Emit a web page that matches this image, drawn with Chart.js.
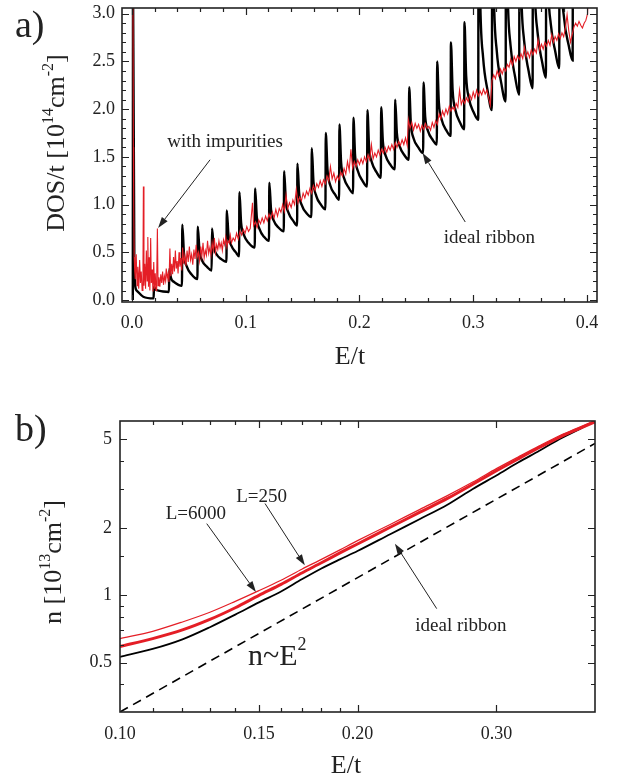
<!DOCTYPE html>
<html><head><meta charset="utf-8">
<script src="https://cdn.jsdelivr.net/npm/chart.js@4.4.0/dist/chart.umd.min.js"></script>
<style>
html,body{margin:0;padding:0;background:#fff;}
#wrap{position:relative;width:623px;height:783px;overflow:hidden;background:#fff}
canvas{position:absolute;left:0}
#ca{top:0;width:623px;height:400px}
#cb{top:400px;width:623px;height:383px}
</style></head><body>
<div id="wrap"><canvas id="ca" width="623" height="400"></canvas><canvas id="cb" width="623" height="383"></canvas></div>
<script>
// ---------- Panel a data: DOS/t vs E/t ----------
const aXTicks = [0, 0.1, 0.2, 0.3, 0.4];
const aXLabels = ['0.0', '0.1', '0.2', '0.3', '0.4'];
const aYTicks = [0, 0.5, 1.0, 1.5, 2.0, 2.5, 3.0];
const aYLabels = ['0.0', '0.5', '1.0', '1.5', '2.0', '2.5', '3.0'];

// ideal ribbon [E/t, DOS/t]
const idealCurve = [
 [0.0008,0.00],[0.0010,3.30],[0.0022,0.28],[0.0042,0.10],[0.0100,0.035],[0.0191,0.018],
 [0.0194,0.14],[0.0209,0.11],[0.0234,0.10],[0.0274,0.09],[0.0326,0.085],
 [0.0329,0.33],[0.0344,0.23],[0.0369,0.19],[0.0409,0.16],[0.0440,0.15],
 [0.0443,0.79],[0.0458,0.48],[0.0483,0.35],[0.0523,0.27],[0.0576,0.22],
 [0.0579,0.77],[0.0594,0.52],[0.0619,0.41],[0.0659,0.35],[0.0701,0.31],
 [0.0704,0.75],[0.0719,0.56],[0.0744,0.48],[0.0784,0.43],[0.0831,0.40],
 [0.0834,0.94],[0.0849,0.68],[0.0874,0.57],[0.0914,0.50],[0.0942,0.46],
 [0.0945,1.13],[0.0960,0.81],[0.0985,0.68],[0.1025,0.60],[0.1080,0.55],
 [0.1083,1.17],[0.1098,0.87],[0.1123,0.74],[0.1163,0.66],[0.1205,0.62],
 [0.1208,1.23],[0.1223,0.95],[0.1248,0.83],[0.1288,0.76],[0.1335,0.72],
 [0.1338,1.35],[0.1353,1.04],[0.1378,0.91],[0.1418,0.83],[0.1452,0.78],
 [0.1455,1.43],[0.1470,1.12],[0.1495,0.99],[0.1535,0.91],[0.1578,0.87],
 [0.1581,1.59],[0.1596,1.24],[0.1621,1.09],[0.1661,1.00],[0.1701,0.95],
 [0.1704,1.75],[0.1719,1.37],[0.1744,1.20],[0.1784,1.11],[0.1821,1.05],
 [0.1824,1.84],[0.1839,1.44],[0.1864,1.28],[0.1904,1.18],[0.1944,1.12],
 [0.1947,1.91],[0.1962,1.51],[0.1987,1.35],[0.2027,1.25],[0.2067,1.19],
 [0.2070,1.99],[0.2085,1.60],[0.2110,1.44],[0.2150,1.34],[0.2188,1.28],
 [0.2191,2.02],[0.2206,1.66],[0.2231,1.51],[0.2271,1.42],[0.2311,1.37],
 [0.2314,2.10],[0.2329,1.75],[0.2354,1.61],[0.2394,1.52],[0.2434,1.47],
 [0.2437,2.23],[0.2452,1.85],[0.2477,1.69],[0.2517,1.60],[0.2560,1.54],
 [0.2563,2.28],[0.2578,1.92],[0.2603,1.77],[0.2643,1.68],[0.2680,1.63],
 [0.2683,2.50],[0.2698,2.07],[0.2723,1.89],[0.2763,1.78],[0.2801,1.72],
 [0.2804,2.70],[0.2819,2.20],[0.2844,1.99],[0.2884,1.86],[0.2920,1.79],
 [0.2923,2.91],[0.2938,2.35],[0.2963,2.11],[0.3003,1.97],[0.3044,1.89],
 [0.3047,4.50],[0.3062,3.12],[0.3087,2.54],[0.3127,2.19],[0.3164,1.99],
 [0.3167,4.50],[0.3182,3.17],[0.3207,2.61],[0.3247,2.27],[0.3285,2.08],
 [0.3288,4.50],[0.3303,3.21],[0.3328,2.67],[0.3368,2.34],[0.3404,2.15],
 [0.3407,4.50],[0.3422,3.25],[0.3447,2.72],[0.3487,2.40],[0.3522,2.22],
 [0.3525,4.50],[0.3540,3.31],[0.3565,2.81],[0.3605,2.50],[0.3639,2.33],
 [0.3642,4.50],[0.3657,3.36],[0.3682,2.89],[0.3722,2.60],[0.3756,2.43],
 [0.3759,4.50],[0.3774,3.41],[0.3799,2.95],[0.3839,2.67],[0.3874,2.51],
 [0.3877,4.50]
];

// with impurities [E/t, DOS/t]
const impurityCurve = [
 [0.0009,3.30],[0.0013,1.60],[0.0016,0.98],[0.0020,0.45],[0.0025,0.30],[0.0030,0.22],[0.0038,0.48],[0.0045,0.15],[0.0052,0.35],[0.0060,0.12],
 [0.0068,0.42],[0.0075,0.18],[0.0082,0.30],[0.0090,0.10],[0.0097,0.26],[0.0101,1.19],[0.0106,0.15],[0.0113,0.38],[0.0120,0.12],[0.0127,0.52],
 [0.0134,0.20],[0.0140,0.66],[0.0146,0.14],[0.0152,0.45],[0.0158,0.10],[0.0165,0.65],[0.0171,0.18],[0.0178,0.32],[0.0185,0.09],[0.0192,0.40],
 [0.0198,0.12],[0.0205,0.28],[0.0212,0.10],[0.0218,0.22],[0.0224,0.75],[0.0230,0.15],[0.0238,0.24],[0.0246,0.14],[0.0254,0.27],[0.0262,0.18],
 [0.0270,0.30],[0.0278,0.16],[0.0286,0.25],[0.0294,0.20],[0.0302,0.33],[0.0310,0.22],[0.0318,0.28],[0.0326,0.19],[0.0334,0.54],[0.0342,0.25],
 [0.0350,0.38],[0.0358,0.27],[0.0366,0.45],[0.0374,0.30],[0.0382,0.52],[0.0390,0.33],[0.0398,0.41],[0.0406,0.28],[0.0414,0.50],[0.0422,0.35],
 [0.0430,0.44],[0.0438,0.31],[0.0446,0.55],[0.0455,0.38],[0.0465,0.47],[0.0475,0.36],[0.0485,0.52],[0.0495,0.40],[0.0505,0.56],[0.0515,0.42],
 [0.0525,0.48],[0.0535,0.37],[0.0545,0.53],[0.0555,0.43],[0.0565,0.58],[0.0575,0.45],[0.0585,0.50],[0.0595,0.41],[0.0605,0.56],[0.0615,0.46],
 [0.0625,0.60],[0.0635,0.44],[0.0645,0.52],[0.0655,0.47],[0.0665,0.62],[0.0675,0.49],[0.0685,0.55],[0.0695,0.47],[0.0705,0.60],[0.0715,0.52],
 [0.0725,0.65],[0.0735,0.50],[0.0745,0.58],[0.0755,0.53],[0.0765,0.62],[0.0775,0.55],[0.0785,0.60],[0.0795,0.52],[0.0805,0.63],[0.0815,0.58],
 [0.0825,0.66],[0.0835,0.56],[0.0845,0.62],[0.0855,0.60],[0.0865,0.68],[0.0875,0.60],[0.0890,0.65],[0.0905,0.62],[0.0920,0.70],[0.0935,0.64],
 [0.0950,0.72],[0.0965,0.68],[0.0980,0.74],[0.0995,0.70],[0.1010,0.77],[0.1025,0.72],[0.1040,0.75],[0.1060,1.02],[0.1070,0.78],[0.1085,0.82],
 [0.1100,0.76],[0.1115,0.84],[0.1130,0.80],[0.1145,0.86],[0.1160,0.81],[0.1175,0.88],[0.1190,0.83],[0.1205,0.90],[0.1220,0.85],[0.1235,0.92],
 [0.1250,0.86],[0.1265,0.95],[0.1280,0.88],[0.1295,0.96],[0.1310,0.92],[0.1325,1.00],[0.1340,0.93],[0.1355,1.10],[0.1370,0.96],[0.1385,1.02],
 [0.1400,0.97],[0.1415,1.05],[0.1430,1.00],[0.1445,1.16],[0.1460,1.02],[0.1475,1.08],[0.1490,1.04],[0.1505,1.12],[0.1520,1.07],[0.1535,1.14],
 [0.1550,1.10],[0.1565,1.17],[0.1580,1.12],[0.1595,1.20],[0.1610,1.15],[0.1625,1.22],[0.1640,1.18],[0.1655,1.25],[0.1670,1.19],[0.1685,1.26],
 [0.1700,1.22],[0.1715,1.30],[0.1730,1.25],[0.1745,1.40],[0.1760,1.27],[0.1775,1.33],[0.1790,1.24],[0.1805,1.30],[0.1820,1.26],[0.1835,1.34],
 [0.1850,1.30],[0.1865,1.38],[0.1880,1.32],[0.1895,1.45],[0.1910,1.36],[0.1925,1.58],[0.1940,1.38],[0.1955,1.45],[0.1970,1.40],[0.1985,1.47],
 [0.2000,1.42],[0.2015,1.48],[0.2030,1.43],[0.2045,1.50],[0.2060,1.45],[0.2075,1.52],[0.2090,1.47],[0.2105,1.63],[0.2120,1.48],[0.2135,1.54],
 [0.2150,1.50],[0.2165,1.57],[0.2180,1.52],[0.2195,1.58],[0.2210,1.54],[0.2225,1.60],[0.2240,1.55],[0.2255,1.61],[0.2270,1.57],[0.2285,1.63],
 [0.2300,1.58],[0.2315,1.65],[0.2330,1.60],[0.2345,1.66],[0.2360,1.62],[0.2375,1.68],[0.2390,1.63],[0.2405,1.70],[0.2420,1.62],[0.2430,1.89],
 [0.2445,1.80],[0.2460,1.86],[0.2475,1.78],[0.2490,1.85],[0.2505,1.80],[0.2520,1.84],[0.2535,1.77],[0.2550,1.83],[0.2565,1.79],[0.2580,1.85],
 [0.2595,1.80],[0.2610,1.82],[0.2625,1.78],[0.2640,1.86],[0.2655,1.81],[0.2670,1.88],[0.2685,1.84],[0.2700,1.95],[0.2715,1.90],[0.2730,1.98],
 [0.2745,1.93],[0.2760,2.00],[0.2775,1.95],[0.2790,2.03],[0.2805,1.98],[0.2820,2.02],[0.2835,1.99],[0.2850,2.06],[0.2865,2.02],[0.2880,2.20],
 [0.2895,2.05],[0.2910,2.10],[0.2925,2.06],[0.2940,2.12],[0.2955,2.08],[0.2970,2.15],[0.2985,2.10],[0.3000,2.18],[0.3015,2.12],[0.3030,2.20],
 [0.3045,2.14],[0.3060,2.19],[0.3075,2.15],[0.3090,2.21],[0.3105,2.16],[0.3120,2.20],[0.3135,2.12],[0.3150,2.04],[0.3165,2.30],[0.3180,2.36],
 [0.3195,2.32],[0.3210,2.40],[0.3225,2.35],[0.3240,2.42],[0.3255,2.37],[0.3270,2.43],[0.3285,2.40],[0.3300,2.47],[0.3315,2.44],[0.3330,2.52],
 [0.3345,2.46],[0.3360,2.55],[0.3375,2.50],[0.3390,2.56],[0.3405,2.52],[0.3420,2.58],[0.3435,2.53],[0.3450,2.65],[0.3465,2.55],[0.3480,2.60],
 [0.3495,2.54],[0.3510,2.62],[0.3525,2.57],[0.3540,2.63],[0.3555,2.59],[0.3570,2.73],[0.3585,2.62],[0.3600,2.68],[0.3615,2.63],[0.3630,2.70],
 [0.3645,2.66],[0.3660,2.72],[0.3675,2.67],[0.3690,2.78],[0.3705,2.70],[0.3720,2.76],[0.3735,2.72],[0.3750,2.79],[0.3765,2.74],[0.3780,2.80],
 [0.3795,2.76],[0.3810,2.85],[0.3825,2.99],[0.3840,2.82],[0.3855,2.70],[0.3870,2.78],[0.3885,2.86],[0.3900,2.90],[0.3915,2.87],[0.3930,2.92],
 [0.3945,2.88],[0.3960,2.85],[0.3975,2.90],[0.3990,2.93],[0.4005,3.00],[0.4012,3.30]
];

// ---------- Panel b data: n vs E/t (log-log) ----------
const bXTicks = [0.10, 0.15, 0.20, 0.30];
const bXLabels = ['0.10', '0.15', '0.20', '0.30'];
const bYTicks = [0.5, 1, 2, 5];
const bYLabels = ['0.5', '1', '2', '5'];
const nE      = [0.10, 0.11, 0.12, 0.13, 0.14, 0.15, 0.16, 0.17, 0.18, 0.19, 0.20, 0.22, 0.24, 0.26, 0.28, 0.30, 0.32, 0.34, 0.36, 0.38, 0.40];
const nIdeal  = [0.53, 0.575, 0.635, 0.72, 0.82, 0.93, 1.04, 1.18, 1.32, 1.45, 1.58, 1.88, 2.20, 2.55, 3.00, 3.45, 3.95, 4.45, 5.00, 5.50, 6.05];
const nL6000  = [0.59, 0.64, 0.70, 0.78, 0.88, 1.00, 1.12, 1.26, 1.40, 1.55, 1.70, 2.02, 2.36, 2.72, 3.15, 3.62, 4.10, 4.60, 5.10, 5.55, 6.00];
const nL250   = [0.64, 0.69, 0.76, 0.84, 0.94, 1.05, 1.17, 1.31, 1.45, 1.60, 1.76, 2.08, 2.43, 2.80, 3.22, 3.70, 4.18, 4.68, 5.18, 5.62, 6.08];
const nE2E    = [0.10, 0.40];
const nE2     = [0.30, 4.80];

// ---------- helpers ----------
const FONT = '"Liberation Serif", "Times New Roman", serif';
const INK = '#222';
function measureRich(ctx, parts){ let w = 0; for (const p of parts){ ctx.font = p.size + 'px ' + FONT; w += ctx.measureText(p.t).width; } return w; }
function drawRich(ctx, parts, x, y, align){
  const w = measureRich(ctx, parts);
  let cx = align === 'center' ? x - w/2 : (align === 'right' ? x - w : x);
  for (const p of parts){ ctx.font = p.size + 'px ' + FONT; ctx.fillText(p.t, cx, y + (p.dy || 0)); cx += ctx.measureText(p.t).width; }
}
function arrow(ctx, x1, y1, x2, y2){
  const ang = Math.atan2(y2 - y1, x2 - x1), L = 11, W = 3.6;
  const bx = x2 - L*Math.cos(ang), by = y2 - L*Math.sin(ang);
  ctx.lineWidth = 1; ctx.beginPath(); ctx.moveTo(x1, y1); ctx.lineTo(bx, by); ctx.stroke();
  ctx.beginPath(); ctx.moveTo(x2, y2);
  ctx.lineTo(bx - W*Math.sin(ang), by + W*Math.cos(ang));
  ctx.lineTo(bx + W*Math.sin(ang), by - W*Math.cos(ang));
  ctx.closePath(); ctx.fill();
}
function makeDecor(conf){
  return {
    id: 'decor',
    afterDatasetsDraw(chart){
      const ctx = chart.ctx, ca = chart.chartArea, xs = chart.scales.x, ys = chart.scales.y;
      ctx.save();
      ctx.strokeStyle = INK; ctx.fillStyle = INK; ctx.lineWidth = 1.2;
      const inX = v => v > xs.min && v < xs.max, inY = v => v > ys.min && v < ys.max;
      const drawX = (list, len) => list.filter(inX).forEach(v => {
        const p = Math.round(xs.getPixelForValue(v)) + 0.5;
        ctx.beginPath(); ctx.moveTo(p, ca.bottom); ctx.lineTo(p, ca.bottom - len);
        ctx.moveTo(p, ca.top); ctx.lineTo(p, ca.top + len); ctx.stroke();
      });
      const drawY = (list, len) => list.filter(inY).forEach(v => {
        const p = Math.round(ys.getPixelForValue(v)) + 0.5;
        ctx.beginPath(); ctx.moveTo(ca.left, p); ctx.lineTo(ca.left + len, p);
        ctx.moveTo(ca.right, p); ctx.lineTo(ca.right - len, p); ctx.stroke();
      });
      drawX(conf.xMajor, 7); drawX(conf.xMinor, 4);
      drawY(conf.yMajor, 7); drawY(conf.yMinor, 4);
      ctx.lineWidth = 1.6;
      ctx.strokeRect(ca.left, ca.top, ca.right - ca.left, ca.bottom - ca.top);
      conf.arrows.forEach(a => arrow(ctx, xs.getPixelForValue(a[0]), ys.getPixelForValue(a[1]), xs.getPixelForValue(a[2]), ys.getPixelForValue(a[3])));
      ctx.textBaseline = 'alphabetic';
      conf.notes.forEach(n => drawRich(ctx, n.parts, xs.getPixelForValue(n.x), ys.getPixelForValue(n.y), n.align || 'center'));
      conf.labels.forEach(l => {
        ctx.save(); ctx.translate(l.px, l.py); if (l.rot) ctx.rotate(l.rot);
        drawRich(ctx, l.parts, 0, 0, l.align || 'center'); ctx.restore();
      });
      ctx.restore();
    }
  };
}
const tickFont = { family: FONT, size: 18 };

// ---------- Chart a ----------
const aMinorX = []; for (let i = 1; i < 21; i++) if (i % 5) aMinorX.push(i * 0.02);
const aMinorY = []; for (let i = 1; i < 31; i++) if (i % 5) aMinorY.push(i * 0.1);
const decorA = makeDecor({
  xMajor: aXTicks, xMinor: aMinorX, yMajor: aYTicks, yMinor: aMinorY,
  arrows: [[0.0687, 1.47, 0.0230, 0.756], [0.293, 0.818, 0.2555, 1.54]],
  notes: [
    { x: 0.0819, y: 1.60, parts: [{ t: 'with impurities', size: 19 }] },
    { x: 0.3142, y: 0.60, parts: [{ t: 'ideal ribbon', size: 19 }] }
  ],
  labels: [
    { px: 15, py: 37, align: 'left', parts: [{ t: 'a)', size: 38 }] },
    { px: 64, py: 143, rot: -Math.PI/2, parts: [{ t: 'DOS/t [10', size: 26 }, { t: '14', size: 16, dy: -11 }, { t: 'cm', size: 26 }, { t: '-2', size: 16, dy: -11 }, { t: ']', size: 26 }] },
    { px: 350, py: 364, parts: [{ t: 'E/t', size: 26 }] }
  ]
});
const A_H = 400;
new Chart(document.getElementById('ca'), {
  type: 'line',
  data: { datasets: [
    { label: 'with impurities', data: impurityCurve.map(p => ({ x: p[0], y: p[1] })), borderColor: '#e41e26', borderWidth: 1.1, pointRadius: 0, tension: 0, order: 0 },
    { label: 'ideal ribbon', data: idealCurve.map(p => ({ x: p[0], y: p[1] })), borderColor: '#000', borderWidth: 2.4, pointRadius: 0, cubicInterpolationMode: 'monotone', order: 1 }
  ]},
  options: {
    responsive: false, animation: false, devicePixelRatio: 1,
    layout: { padding: { top: 8, right: 26, left: 0, bottom: 0 } },
    plugins: { legend: { display: false }, tooltip: { enabled: false } },
    scales: {
      x: { type: 'linear', min: -0.0087, max: 0.4088,
        grid: { display: false, drawTicks: false }, border: { display: false },
        afterBuildTicks: s => { s.ticks = aXTicks.map(v => ({ value: v })); },
        afterFit: s => { s.height = A_H - 302; s.paddingLeft = 0; s.paddingRight = 0; },
        ticks: { font: tickFont, color: INK, padding: 10, maxRotation: 0, autoSkip: false, callback: (v, i) => aXLabels[i] } },
      y: { type: 'linear', min: -0.02, max: 3.06,
        grid: { display: false, drawTicks: false }, border: { display: false },
        afterBuildTicks: s => { s.ticks = aYTicks.map(v => ({ value: v })); },
        afterFit: s => { s.width = 122; s.paddingTop = 0; s.paddingBottom = 0; },
        ticks: { font: tickFont, color: INK, padding: 7, autoSkip: false, callback: (v, i) => aYLabels[i] } }
    }
  },
  plugins: [decorA]
});

// ---------- Chart b ----------
const bMinorX = [0.11, 0.12, 0.13, 0.14, 0.16, 0.17, 0.18, 0.19];
const bMinorY = [0.4, 0.6, 0.7, 0.8, 0.9, 1.5, 3, 4];
const decorB = makeDecor({
  xMajor: bXTicks, xMinor: bMinorX, yMajor: bYTicks, yMinor: bMinorY,
  arrows: [[0.1527, 2.58, 0.1715, 1.363], [0.1288, 2.097, 0.1487, 1.035], [0.252, 0.872, 0.2231, 1.705]],
  notes: [
    { x: 0.1512, y: 2.62, parts: [{ t: 'L=250', size: 19 }] },
    { x: 0.1248, y: 2.20, parts: [{ t: 'L=6000', size: 19 }] },
    { x: 0.2705, y: 0.69, parts: [{ t: 'ideal ribbon', size: 19 }] },
    { x: 0.1453, y: 0.485, align: 'left', parts: [{ t: 'n~E', size: 30 }, { t: '2', size: 18, dy: -15 }] }
  ],
  labels: [
    { px: 15, py: 41, align: 'left', parts: [{ t: 'b)', size: 38 }] },
    { px: 61, py: 162, rot: -Math.PI/2, parts: [{ t: 'n [10', size: 26 }, { t: '13', size: 16, dy: -11 }, { t: 'cm', size: 26 }, { t: '-2', size: 16, dy: -11 }, { t: ']', size: 26 }] },
    { px: 346, py: 373, parts: [{ t: 'E/t', size: 26 }] }
  ]
});
const B_H = 383;
const pts = (xs, ys) => xs.map((x, i) => ({ x: x, y: ys[i] }));
new Chart(document.getElementById('cb'), {
  type: 'line',
  data: { datasets: [
    { label: 'L=250', data: pts(nE, nL250), borderColor: '#e41e26', borderWidth: 1.2, pointRadius: 0, tension: 0.3, order: 0 },
    { label: 'L=6000', data: pts(nE, nL6000), borderColor: '#e41e26', borderWidth: 3, pointRadius: 0, tension: 0.3, order: 1 },
    { label: 'ideal ribbon', data: pts(nE, nIdeal), borderColor: '#000', borderWidth: 1.8, pointRadius: 0, tension: 0.3, order: 2 },
    { label: 'n~E^2', data: pts(nE2E, nE2), borderColor: '#000', borderWidth: 1.6, borderDash: [9, 6], pointRadius: 0, order: 3 }
  ]},
  options: {
    responsive: false, animation: false, devicePixelRatio: 1,
    layout: { padding: { top: 21, right: 28, left: 0, bottom: 0 } },
    plugins: { legend: { display: false }, tooltip: { enabled: false } },
    scales: {
      x: { type: 'logarithmic', min: 0.1, max: 0.4,
        grid: { display: false, drawTicks: false }, border: { display: false },
        afterBuildTicks: s => { s.ticks = bXTicks.map(v => ({ value: v })); },
        afterFit: s => { s.height = B_H - 312; s.paddingLeft = 0; s.paddingRight = 0; },
        ticks: { font: tickFont, color: INK, padding: 11, maxRotation: 0, autoSkip: false, callback: (v, i) => bXLabels[i] } },
      y: { type: 'logarithmic', min: 0.3, max: 6.05,
        grid: { display: false, drawTicks: false }, border: { display: false },
        afterBuildTicks: s => { s.ticks = bYTicks.map(v => ({ value: v })); },
        afterFit: s => { s.width = 120; s.paddingTop = 0; s.paddingBottom = 0; },
        ticks: { font: tickFont, color: INK, padding: 8, autoSkip: false, callback: (v, i) => bYLabels[i] } }
    }
  },
  plugins: [decorB]
});
</script>
</body></html>
